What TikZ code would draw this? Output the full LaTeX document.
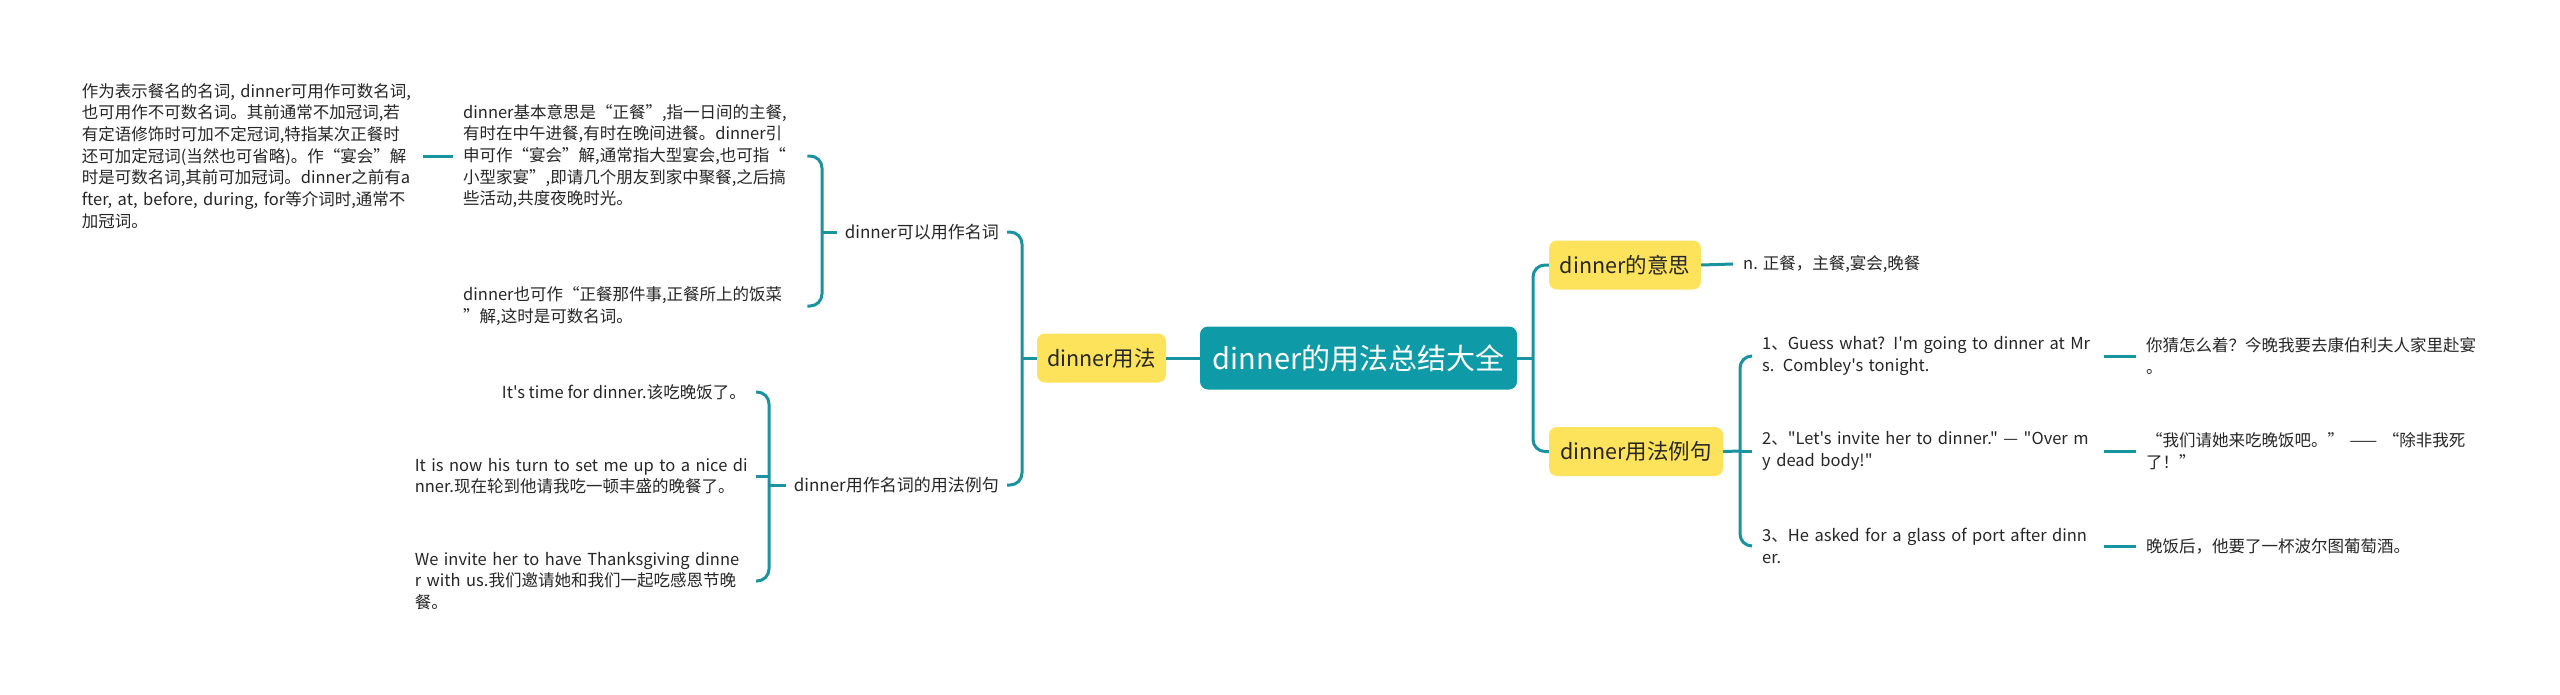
\documentclass[tikz,border=0pt]{standalone}
\usepackage{fontspec}
\newfontfamily\cjk{Noto Sans CJK SC}
\newcommand\mrow[1]{\mbox{#1}}
\definecolor{teal1}{HTML}{0E9AA7}
\definecolor{line1}{HTML}{1A93A0}
\definecolor{yel}{HTML}{FDE25C}
\begin{document}
\begin{tikzpicture}[x=1pt,y=-1pt,
 conn/.style={draw=line1, line width=3pt, rounded corners=12pt},
 body/.style={font=\cjk\fontsize{16.5}{21.7}\selectfont, text=black!85, inner xsep=10pt, inner ysep=2pt, align=left},
 lab/.style={font=\cjk\fontsize{17}{21}\selectfont, text=black!85, inner xsep=8pt},
 ybox/.style={fill=yel, rounded corners=8pt, font=\cjk\fontsize{21.5}{24}\selectfont, text=black!85, inner sep=0pt, minimum height=49pt},
]
\useasboundingbox[fill=white] (0,0) rectangle (2560,694);

\node[fill=teal1, rounded corners=8pt, minimum width=317pt, minimum height=63pt, text=white, font=\cjk\fontsize{29}{32}\selectfont, inner sep=0pt] (root) at (1358.5,358) {dinner的用法总结大全};
\node[ybox, minimum width=129pt] (usage) at (1101.5,358) {dinner用法};
\node[ybox, minimum width=152pt] (meaning) at (1625,265) {dinner的意思};
\node[ybox, minimum width=174pt] (examples) at (1636,451.5) {dinner用法例句};

\node[body, text width=331pt, anchor=east] (far) at (423,156) {\mrow{作为表示餐名的名词, dinner可用作可数名词,}\\\mrow{也可用作不可数名词。其前通常不加冠词,若}\\\mrow{有定语修饰时可加不定冠词,特指某次正餐时}\\\mrow{还可加定冠词(当然也可省略)。作“宴会”解}\\\mrow{时是可数名词,其前可加冠词。dinner之前有a}\\\mrow{fter, at, before, during, for等介词时,通常不}\\\mrow{加冠词。}};
\node[body, text width=334pt, anchor=west] (basic) at (453,156) {\mrow{dinner基本意思是“正餐”,指一日间的主餐,}\\\mrow{有时在中午进餐,有时在晚间进餐。dinner引}\\\mrow{申可作“宴会”解,通常指大型宴会,也可指“}\\\mrow{小型家宴”,即请几个朋友到家中聚餐,之后搞}\\\mrow{些活动,共度夜晚时光。}};
\node[body, text width=334pt, anchor=west] (also) at (453,306) {\mrow{dinner也可作“正餐那件事,正餐所上的饭菜}\\\mrow{”解,这时是可数名词。}};

\node[lab, anchor=east] (noun) at (1007,232) {dinner可以用作名词};
\node[lab, anchor=east] (nounex) at (1007,485) {dinner用作名词的用法例句};

\node[body, anchor=east] (it1) at (756,392) {It's time for dinner.该吃晚饭了。};
\node[body, text width=331pt, anchor=east] (it2) at (756,476) {\mrow{It is now his turn to set me up to a nice di}\\\mrow{nner.现在轮到他请我吃一顿丰盛的晚餐了。}};
\node[body, text width=331pt, anchor=east] (it3) at (756,581) {\mrow{We invite her to have Thanksgiving dinne}\\\mrow{r with us.我们邀请她和我们一起吃感恩节晚}\\\mrow{餐。}};

\node[body, anchor=west] (nmean) at (1733,264) {n. 正餐，主餐,宴会,晚餐};
\node[body, text width=332pt, anchor=west] (ex1) at (1752,356) {\mrow{1、Guess what? I'm going to dinner at Mr}\\\mrow{s. Combley's tonight.}};
\node[body, text width=332pt, anchor=west] (ex2) at (1752,451) {\mrow{2、"Let's invite her to dinner." — "Over m}\\\mrow{y dead body!"}};
\node[body, text width=332pt, anchor=west] (ex3) at (1752,546) {\mrow{3、He asked for a glass of port after dinn}\\\mrow{er.}};
\node[body, text width=340pt, anchor=west] (tr1) at (2136,356) {\mrow{你猜怎么着？今晚我要去康伯利夫人家里赴宴}\\\mrow{。}};
\node[body, text width=340pt, anchor=west] (tr2) at (2136,451) {\mrow{“我们请她来吃晚饭吧。” —— “除非我死}\\\mrow{了！”}};
\node[body, anchor=west] (tr3) at (2136,546) {晚饭后，他要了一杯波尔图葡萄酒。};

\coordinate (bA) at (822,232);
\coordinate (bB) at (1022,358);
\coordinate (bC) at (769,485);
\coordinate (bD) at (1533,358);
\coordinate (bE) at (1740,451);

\draw[conn] (far.east) -- (basic.west);
\draw[conn] (basic.east) -| (bA) |- (also.east);
\draw[conn] (bA) -- (noun.west);
\draw[conn] (noun.east) -| (bB) |- (nounex.east);
\draw[conn] (bB) -- (usage.west);
\draw[conn] (it1.east) -| (bC) |- (it3.east);
\draw[conn] (it2.east) -- (it2.east -| bC);
\draw[conn] (bC) -- (nounex.west);
\draw[conn] (usage.east) -- (root.west);
\draw[conn] (root.east) -- (bD);
\draw[conn] (meaning.west) -| (bD) |- (examples.west);
\draw[conn] (meaning.east) -- (nmean.west);
\draw[conn] (examples.east) -- (bE);
\draw[conn] (ex1.west) -| (bE) |- (ex3.west);
\draw[conn] (ex2.west) -- (bE);
\draw[conn] (ex1.east) -- (tr1.west);
\draw[conn] (ex2.east) -- (tr2.west);
\draw[conn] (ex3.east) -- (tr3.west);
\end{tikzpicture}
\end{document}
